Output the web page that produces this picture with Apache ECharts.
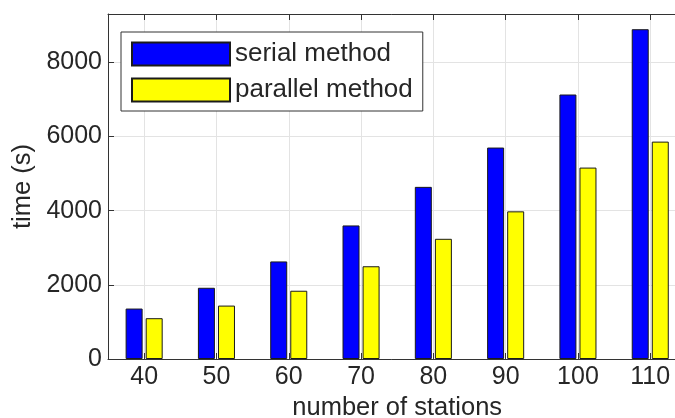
<!DOCTYPE html>
<html>
<head>
<meta charset="utf-8">
<script src="https://cdn.jsdelivr.net/npm/echarts@6/dist/echarts.min.js"></script>
<style>
html,body{margin:0;padding:0;background:#fff;}
#chart{width:675px;height:418px;}
</style>
</head>
<body>
<div id="chart"></div>
<script>
const categories = ['40', '50', '60', '70', '80', '90', '100', '110'];
const serialTimes = [1360, 1920, 2630, 3600, 4640, 5700, 7130, 8890];
const parallelTimes = [1100, 1440, 1840, 2500, 3240, 3980, 5160, 5860];
const seriesNames = ['serial method', 'parallel method'];

const FONT = '"Liberation Sans", Arial, Helvetica, sans-serif';
const TEXT = '#262626';
const AXIS = '#333333';
const GRID = '#e3e3e3';

const chart = echarts.init(document.getElementById('chart'), null, {renderer: 'canvas'});
chart.setOption({
  backgroundColor: '#ffffff',
  animation: false,
  textStyle: {fontFamily: FONT},
  grid: {left: 108, top: 14, bottom: 59, right: -11.4, containLabel: false, outerBoundsMode: 'none'},
  legend: {
    left: 121, top: 32,
    orient: 'vertical',
    icon: 'rect',
    itemWidth: 98, itemHeight: 23, itemGap: 10,
    padding: [9, 10, 8, 10],
    backgroundColor: '#ffffff',
    borderColor: AXIS, borderWidth: 1,
    textStyle: {fontSize: 26, color: TEXT, fontFamily: FONT},
    data: seriesNames
  },
  xAxis: [{
    type: 'category',
    data: categories,
    boundaryGap: true,
    name: 'number of stations',
    nameLocation: 'middle',
    nameGap: 28,
    nameTextStyle: {fontSize: 25.5, color: TEXT, fontFamily: FONT},
    axisLine: {show: true, lineStyle: {color: AXIS, width: 1}},
    axisTick: {show: true, inside: true, length: 6, alignWithLabel: true, lineStyle: {color: AXIS}},
    axisLabel: {fontSize: 25, color: TEXT, margin: 6, fontFamily: FONT},
    splitLine: {show: true, alignWithLabel: true, lineStyle: {color: GRID, width: 1}}
  }, {
    type: 'category',
    data: categories,
    position: 'top',
    boundaryGap: true,
    axisLine: {show: true, lineStyle: {color: AXIS, width: 1}},
    axisTick: {show: true, inside: true, length: 6, alignWithLabel: true, lineStyle: {color: AXIS}},
    axisLabel: {show: false},
    splitLine: {show: false}
  }],
  yAxis: {
    type: 'value',
    min: 0, max: 9300, interval: 2000,
    name: 'time (s)',
    nameLocation: 'middle',
    nameGap: 63,
    nameTextStyle: {fontSize: 25.5, color: TEXT, fontFamily: FONT},
    axisLine: {show: true, lineStyle: {color: AXIS, width: 1}},
    axisTick: {show: true, inside: true, length: 6, lineStyle: {color: AXIS}},
    axisLabel: {fontSize: 25, color: TEXT, margin: 6, showMaxLabel: false, fontFamily: FONT,
      formatter: function (v) { return String(v); }},
    splitLine: {show: true, lineStyle: {color: GRID, width: 1}}
  },
  series: [{
    name: seriesNames[0],
    type: 'bar',
    data: serialTimes,
    barWidth: 17,
    barGap: '18%',
    itemStyle: {color: '#0000ff', borderColor: '#1a1a1a', borderWidth: 1}
  }, {
    name: seriesNames[1],
    type: 'bar',
    data: parallelTimes,
    barWidth: 17,
    barGap: '18%',
    itemStyle: {color: '#ffff00', borderColor: '#1a1a1a', borderWidth: 1}
  }]
});
</script>
</body>
</html>
